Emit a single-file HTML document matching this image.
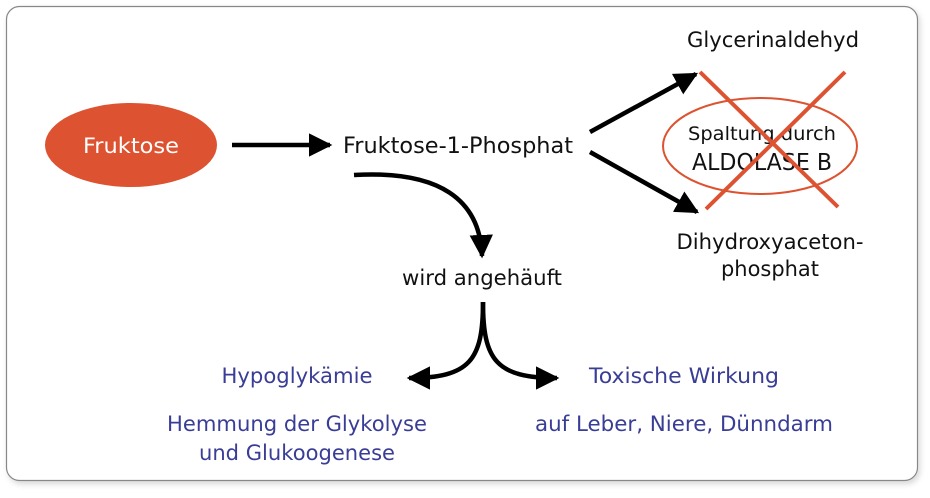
<!DOCTYPE html>
<html><head><meta charset="utf-8"><style>
body{margin:0;width:930px;height:493px;background:#fff;overflow:hidden}
svg text{font-family:"DejaVu Sans","Liberation Sans",sans-serif}
</style></head><body>
<svg width="930" height="493" viewBox="0 0 930 493">
<defs>
<filter id="sh" x="-5%" y="-5%" width="110%" height="110%"><feDropShadow dx="2" dy="3" stdDeviation="3" flood-color="#000" flood-opacity="0.15"/></filter>
<marker id="a" viewBox="0 0 10 10" refX="9" refY="5" markerWidth="5.2" markerHeight="5.2" orient="auto-start-reverse"><path d="M0,0 L10,5 L0,10 z" fill="#000"/></marker>
</defs>
<rect x="6.5" y="6.5" width="911" height="474" rx="13" fill="#fff" stroke="#888" stroke-width="1.2" filter="url(#sh)"/>
<ellipse cx="131" cy="145" rx="86" ry="42" fill="#dd5230"/>
<text x="131" y="153" fill="#fff" font-size="21" text-anchor="middle" textLength="96" lengthAdjust="spacingAndGlyphs">Fruktose</text>
<line x1="232" y1="145" x2="330" y2="145" stroke="#000" stroke-width="4.5" marker-end="url(#a)"/>
<text x="458" y="153" font-size="22" text-anchor="middle" fill="#111" textLength="230" lengthAdjust="spacingAndGlyphs">Fruktose-1-Phosphat</text>
<line x1="590" y1="132" x2="696" y2="74" stroke="#000" stroke-width="4.5" marker-end="url(#a)"/>
<line x1="590" y1="152" x2="697" y2="212" stroke="#000" stroke-width="4.5" marker-end="url(#a)"/>
<text x="773" y="47" font-size="21" text-anchor="middle" fill="#111" textLength="172" lengthAdjust="spacingAndGlyphs">Glycerinaldehyd</text>
<text x="770" y="249" font-size="21" text-anchor="middle" fill="#111" textLength="187" lengthAdjust="spacingAndGlyphs">Dihydroxyaceton-</text>
<text x="770" y="276" font-size="21" text-anchor="middle" fill="#111" textLength="98" lengthAdjust="spacingAndGlyphs">phosphat</text>
<ellipse cx="760" cy="146" rx="97" ry="48" fill="none" stroke="#dd5230" stroke-width="2"/>
<text x="762" y="140" font-size="19" text-anchor="middle" fill="#111" textLength="148" lengthAdjust="spacingAndGlyphs">Spaltung durch</text>
<text x="762" y="170" font-size="23" text-anchor="middle" fill="#111" textLength="140" lengthAdjust="spacingAndGlyphs">ALDOLASE B</text>
<line x1="700" y1="72" x2="838" y2="207" stroke="#dd5230" stroke-width="4"/>
<line x1="845" y1="72" x2="706" y2="209" stroke="#dd5230" stroke-width="4"/>
<path d="M354 175 C 440 170, 480 200, 482 256" fill="none" stroke="#000" stroke-width="4.5" marker-end="url(#a)"/>
<text x="482" y="285" font-size="21" text-anchor="middle" fill="#111" textLength="160" lengthAdjust="spacingAndGlyphs">wird angehäuft</text>
<path d="M483 302 C 483 360, 470 378, 409 378" fill="none" stroke="#000" stroke-width="4.5" marker-end="url(#a)"/>
<path d="M483 302 C 483 360, 496 378, 557 378" fill="none" stroke="#000" stroke-width="4.5" marker-end="url(#a)"/>
<g fill="#3a3d96" font-size="21" text-anchor="middle" lengthAdjust="spacingAndGlyphs">
<text x="297" y="383" textLength="151" lengthAdjust="spacingAndGlyphs">Hypoglykämie</text>
<text x="297" y="431" textLength="260" lengthAdjust="spacingAndGlyphs">Hemmung der Glykolyse</text>
<text x="297" y="460" textLength="196" lengthAdjust="spacingAndGlyphs">und Glukoogenese</text>
<text x="684" y="383" textLength="190" lengthAdjust="spacingAndGlyphs">Toxische Wirkung</text>
<text x="684" y="431" textLength="298" lengthAdjust="spacingAndGlyphs">auf Leber, Niere, Dünndarm</text>
</g>
</svg>
</body></html>
